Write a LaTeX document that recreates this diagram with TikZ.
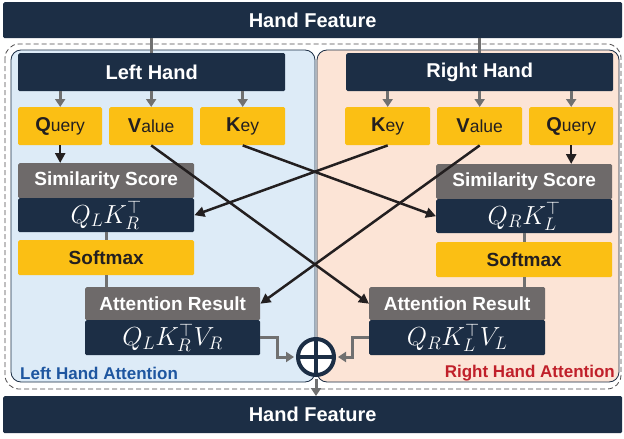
\documentclass[tikz,border=0pt]{standalone}
\usepackage{fontspec}
\setmainfont{Liberation Sans}
\usetikzlibrary{arrows.meta}
\definecolor{navy}{HTML}{1C2E45}
\definecolor{gold}{HTML}{FBBF14}
\definecolor{boxgray}{HTML}{6E6A6A}
\definecolor{linegray}{HTML}{707070}
\definecolor{ink}{HTML}{231F20}
\definecolor{lblue}{HTML}{DDEBF7}
\definecolor{peach}{HTML}{FCE4D6}
\definecolor{tblue}{HTML}{1E56A0}
\definecolor{tred}{HTML}{C0202A}
\newcommand\qvk[2]{{\fontsize{20}{24}\selectfont\bfseries #1}{\fontsize{17.5}{21}\selectfont\mdseries #2}}
\newcommand\bigmath[1]{\scalebox{1.26}{$#1$}}
\tikzset{
 base/.style={inner sep=0pt, anchor=north west, rounded corners=1.5pt, align=center},
 navybox/.style={base, fill=navy, text=white, font=\fontsize{20}{24}\selectfont\bfseries},
 graybox/.style={base, fill=boxgray, text=white, font=\fontsize{19}{23}\selectfont\bfseries},
 yelbox/.style={base, fill=gold, text=ink, font=\fontsize{19}{23}\selectfont\bfseries},
 mathbox/.style={base, fill=navy, text=white, font=\fontsize{20.74}{24}\selectfont},
 garrow/.style={draw=linegray, line width=3pt, -{Triangle[length=8pt,width=10pt]}},
 gline/.style={draw=linegray, line width=3pt},
 barrow/.style={draw=ink, line width=2.5pt, -{Triangle[length=10pt,width=10pt]}},
 panel/.style={draw=navy, line width=0.8pt, rounded corners=10pt},
 cornerlabel/.style={inner sep=0pt, font=\fontsize{17}{20}\selectfont\bfseries},
}
\begin{document}
\begin{tikzpicture}[x=1pt,y=-1pt]
\useasboundingbox[fill=white] (0,0) rectangle (624,439);
% outer dashed frame and panels
\draw[draw=ink!80, line width=0.8pt, dash pattern=on 5pt off 3pt, rounded corners=14pt] (5,44) rectangle (621,389);
\path[panel, fill=lblue] (11,50) rectangle (315,382);
\path[panel, fill=peach] (317,50) rectangle (619,382);
% bars
\node[navybox, minimum width=619pt, minimum height=36pt] (topbar) at (3,2) {Hand Feature};
\node[navybox, minimum width=619pt, minimum height=37pt] (botbar) at (3,396) {Hand Feature};
\node[navybox, minimum width=267pt, minimum height=38pt] (lhand) at (18,53) {Left Hand};
\node[navybox, minimum width=267pt, minimum height=38pt] (rhand) at (346,53) {Right Hand};
% q v k
\node[yelbox, minimum width=84pt, minimum height=38pt] (lq) at (18,107) {\qvk{Q}{uery}};
\node[yelbox, minimum width=84pt, minimum height=38pt] (lv) at (109,107) {\qvk{V}{alue}};
\node[yelbox, minimum width=85pt, minimum height=38pt] (lk) at (200,107) {\qvk{K}{ey}};
\node[yelbox, minimum width=85pt, minimum height=38pt] (rk) at (345,107) {\qvk{K}{ey}};
\node[yelbox, minimum width=85pt, minimum height=38pt] (rv) at (437,107) {\qvk{V}{alue}};
\node[yelbox, minimum width=84pt, minimum height=38pt] (rq) at (529,107) {\qvk{Q}{uery}};
% left column
\node[graybox, minimum width=176pt, minimum height=35pt] (lsim) at (18,163) {Similarity Score};
\node[mathbox, minimum width=176pt, minimum height=34pt] (lsimm) at (18,198) {\bigmath{Q_LK_R^{\top}}};
\node[yelbox, minimum width=176pt, minimum height=35pt] (lsoft) at (18,240) {Softmax};
\node[graybox, minimum width=175pt, minimum height=33pt] (latt) at (85,287) {Attention Result};
\node[mathbox, minimum width=175pt, minimum height=35pt] (lattm) at (85,320) {\bigmath{Q_LK_R^{\top}V_R}};
% right column
\node[graybox, minimum width=176pt, minimum height=35pt] (rsim) at (436,164) {Similarity Score};
\node[mathbox, minimum width=176pt, minimum height=34pt] (rsimm) at (436,199) {\bigmath{Q_RK_L^{\top}}};
\node[yelbox, minimum width=176pt, minimum height=35pt] (rsoft) at (436,242) {Softmax};
\node[graybox, minimum width=176pt, minimum height=33pt] (ratt) at (369,287) {Attention Result};
\node[mathbox, minimum width=176pt, minimum height=35pt] (rattm) at (369,320) {\bigmath{Q_RK_L^{\top}V_L}};
% plus
\node[circle, draw=navy, line width=4pt, fill=white, minimum size=36pt, inner sep=0pt] (plus) at (316,357) {};
\draw[navy, line width=4pt] (plus.north) -- (plus.south) (plus.west) -- (plus.east);
% gray connectors
\draw[gline] (lhand.north |- topbar.south) -- (lhand.north);
\draw[gline] (rhand.north |- topbar.south) -- (rhand.north);
\foreach \n in {lq,lv,lk}{\draw[garrow] (\n.north |- lhand.south) -- (\n.north);}
\foreach \n in {rq,rv,rk}{\draw[garrow] (\n.north |- rhand.south) -- (\n.north);}
\draw[gline] (lsimm.south) -- (lsoft.north);
\draw[gline] (lsoft.south) -- (lsoft.south |- latt.north);
\draw[gline] (rsimm.south) -- (rsoft.north);
\draw[gline] (rsoft.south) -- (rsoft.south |- ratt.north);
\draw[garrow, shorten >=2pt] (lattm.east) -- ++(17,0) |- (plus.west);
\draw[garrow, shorten >=2pt] (rattm.west) -- ++(-17,0) |- (plus.east);
\draw[garrow, shorten <=2pt] (plus.south) -- (botbar.north -| plus.south);
% black connectors
\draw[barrow] (lq.south) -- (lq.south |- lsim.north);
\draw[barrow] (rq.south) -- (rq.south |- rsim.north);
\draw[barrow] (lv.south) -- (ratt.west);
\draw[barrow] (lk.south) -- (rsimm.west);
\draw[barrow] (rk.south) -- (lsimm.east);
\draw[barrow] (rv.south) -- (latt.east);
% labels
\node[cornerlabel, text=tblue, anchor=west] (llabel) at (20,373) {Left Hand Attention};
\node[cornerlabel, text=tred, anchor=east] (rlabel) at (615,373) {Right Hand Attention};
\end{tikzpicture}
\end{document}
